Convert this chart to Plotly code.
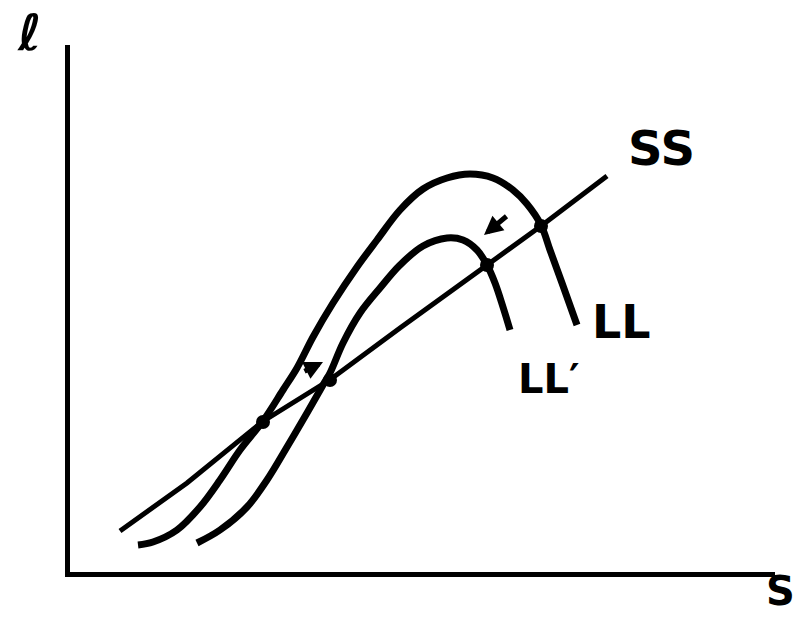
import plotly.graph_objects as go

# Long-run curve LL (saving s on the horizontal axis, l on the vertical axis)
ll_s = [68, 83, 107, 130, 150, 170, 193, 213, 227, 243, 263, 287, 307, 330,
        353, 377, 400, 423, 443, 457, 471, 480, 492, 507]
ll_l = [27, 30, 42, 65, 92, 122, 151, 182, 204, 235, 269, 305, 332, 362,
        383, 394, 398, 394, 382, 368, 347, 322, 289, 247]

# Shifted curve LL'
llp_s = [127, 150, 177, 197, 217, 237, 253, 260, 273, 290, 310, 330, 353,
         377, 393, 407, 417, 425, 433, 440]
llp_l = [29, 42, 65, 92, 125, 159, 187, 199, 229, 259, 284, 307, 326,
         334, 332, 322, 307, 289, 265, 242]

# SS line
ss_s = [50, 117, 192, 261, 330, 417, 471, 537]
ss_l = [41, 89, 150, 193, 244, 307, 346, 396]

# Intersection points
eq_s = [193, 260, 417, 471]
eq_l = [150, 192, 307, 346]

# Shift arrows: (tail_s, tail_l, head_s, head_l)
shift_arrows = [(438, 357, 414, 337), (233, 200, 253, 210)]

# Curve labels
label_text = ["SS", "LL", "LL\u2032"]
label_s = [591, 551, 479]
label_l = [424, 250, 193]
label_size = [48, 46, 40]

# Axis titles, placed in paper coordinates outside the plotting area
title_text = ["\u2113", "S"]
title_px = [-0.057, 1.0085]
title_py = [1.022, -0.036]
title_size = [50, 40]

ink = "black"
fig = go.Figure()
fig.add_trace(go.Scatter(x=ss_s, y=ss_l, mode="lines",
                         line=dict(color=ink, width=5), hoverinfo="skip"))
fig.add_trace(go.Scatter(x=ll_s, y=ll_l, mode="lines",
                         line=dict(color=ink, width=7, shape="spline", smoothing=1.0),
                         hoverinfo="skip"))
fig.add_trace(go.Scatter(x=llp_s, y=llp_l, mode="lines",
                         line=dict(color=ink, width=7, shape="spline", smoothing=1.0),
                         hoverinfo="skip"))
fig.add_trace(go.Scatter(x=eq_s, y=eq_l, mode="markers",
                         marker=dict(color=ink, size=14), hoverinfo="skip"))

for ts, tl, hs, hl in shift_arrows:
    fig.add_annotation(x=hs, y=hl, ax=ts, ay=tl, xref="x", yref="y",
                       axref="x", ayref="y", text="", showarrow=True,
                       arrowhead=2, arrowsize=0.75, arrowwidth=5, arrowcolor=ink)

font_family = "DejaVu Sans"
for t, s, l, sz in zip(label_text, label_s, label_l, label_size):
    fig.add_annotation(x=s, y=l, xref="x", yref="y", text="<b>" + t + "</b>",
                       showarrow=False, font=dict(family=font_family, size=sz, color=ink))

for t, px, py, sz in zip(title_text, title_px, title_py, title_size):
    fig.add_annotation(x=px, y=py, xref="paper", yref="paper", text="<b>" + t + "</b>",
                       showarrow=False, xanchor="center", yanchor="middle",
                       font=dict(family=font_family, size=sz, color=ink))

axis_style = dict(showgrid=False, zeroline=False, showticklabels=False, ticks="",
                  showline=True, linecolor=ink, linewidth=5, mirror=False, fixedrange=True)
fig.update_xaxes(range=[0, 705], **axis_style)
fig.update_yaxes(range=[0, 527], **axis_style)
fig.update_layout(width=799, height=619, showlegend=False,
                  margin=dict(l=70, r=24, t=45, b=47),
                  paper_bgcolor="white", plot_bgcolor="white")

fig.write_html("out.html")
